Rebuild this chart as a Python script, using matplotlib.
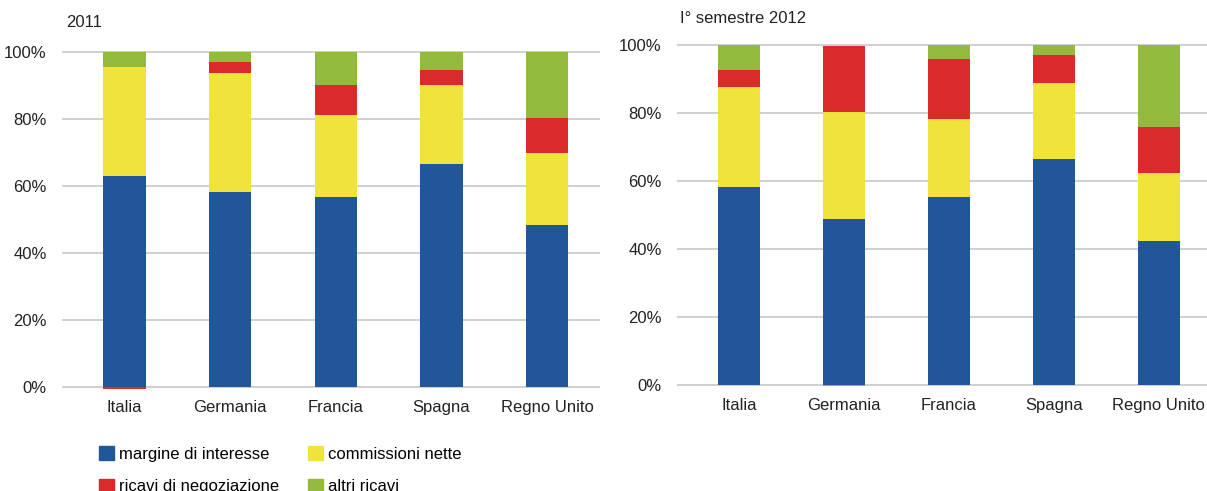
import matplotlib.pyplot as plt
import numpy as np
from matplotlib.patches import Patch

plt.rcParams['font.family'] = ['Liberation Sans', 'DejaVu Sans']

paesi = ["Italia", "Germania", "Francia", "Spagna", "Regno Unito"]
serie = ["margine di interesse", "commissioni nette", "ricavi di negoziazione", "altri ricavi"]
colori = ["#1F5799", "#F0E33C", "#D92B2C", "#92BB3D"]

# quote percentuali 2011
margine_2011 = [62.8, 58.2, 56.7, 66.6, 48.4]
commissioni_2011 = [32.8, 35.5, 24.5, 23.5, 21.5]
negoziazione_2011 = [-0.5, 3.3, 8.9, 4.5, 10.4]
altri_2011 = [4.4, 3.0, 9.9, 5.4, 19.7]

# quote percentuali I semestre 2012
margine_2012 = [58.2, 48.8, 55.3, 66.5, 42.4]
commissioni_2012 = [29.4, 31.5, 22.9, 22.3, 20.0]
negoziazione_2012 = [5.0, 19.4, 17.7, 8.3, 13.5]
altri_2012 = [7.4, -0.3, 4.1, 2.9, 24.1]

fig = plt.figure(figsize=(12.07, 4.91), dpi=100)
ax1 = fig.add_axes([0.0514, 0.205, 0.4457, 0.693])
ax2 = fig.add_axes([0.5609, 0.209, 0.4391, 0.703])


def disegna(ax, valori, xmax):
    x = np.arange(len(paesi))
    pos = np.zeros(len(paesi))
    neg = np.zeros(len(paesi))
    for v, c in zip(valori, colori):
        v = np.array(v) / 100
        base = np.where(v >= 0, pos, neg)
        ax.bar(x, v, 0.4, bottom=base, color=c, edgecolor="none", zorder=3)
        pos = pos + np.where(v >= 0, v, 0)
        neg = neg + np.where(v < 0, v, 0)
    ax.set_xlim(-0.59, xmax)
    ax.set_ylim(-0.01, 1.005)
    ticks = np.arange(0, 1.01, 0.2)
    ax.set_yticks(ticks)
    ax.set_yticklabels([f"{round(t*100)}%" for t in ticks])
    ax.set_xticks(x)
    ax.set_xticklabels(paesi)
    ax.grid(axis="y", color="#C8C8C8", lw=1.2, zorder=0)
    for s in ax.spines.values():
        s.set_visible(False)
    ax.tick_params(length=0, labelsize=12, colors="#222222")
    ax.tick_params(axis="x", pad=7)
    ax.tick_params(axis="y", pad=11)


disegna(ax1, [margine_2011, commissioni_2011, negoziazione_2011, altri_2011], 4.5)
disegna(ax2, [margine_2012, commissioni_2012, negoziazione_2012, altri_2012], 4.46)

fig.text(0.055, 0.955, "2011", fontsize=12, color="#222222", va="center")
fig.text(0.563, 0.963, "I° semestre 2012", fontsize=12, color="#222222", va="center")

handles = [Patch(color=c, label=s) for c, s in zip(colori, serie)]
fig.legend(handles=[handles[0], handles[2], handles[1], handles[3]], ncol=2,
           loc="upper left", bbox_to_anchor=(0.0755, 0.108), frameon=False,
           fontsize=12, handlelength=0.9, handleheight=0.9, handletextpad=0.3,
           columnspacing=1.7, labelspacing=1.0, borderpad=0)

fig.savefig("out.png", dpi=100)
